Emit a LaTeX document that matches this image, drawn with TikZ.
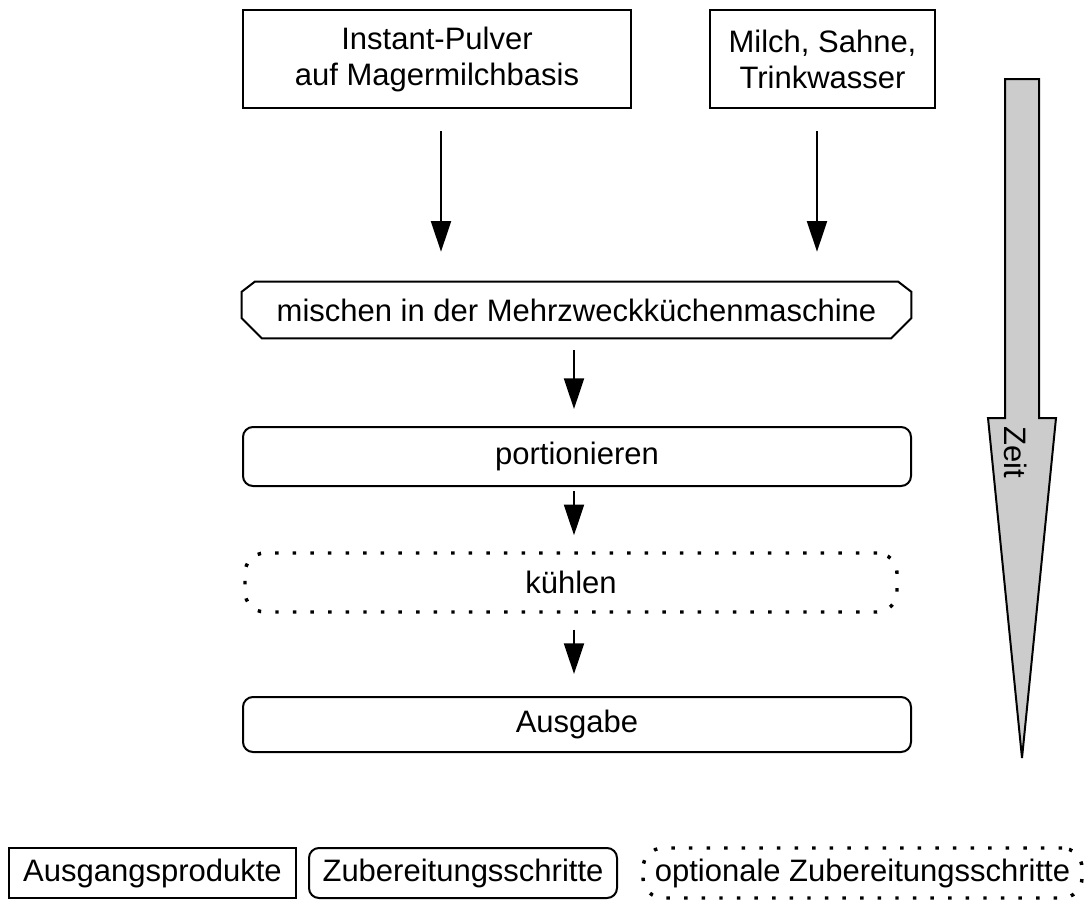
\documentclass[tikz,border=0pt]{standalone}
\usepackage{fontspec}
\setmainfont{Liberation Sans}
\usetikzlibrary{arrows.meta,calc}
\begin{document}
\begin{tikzpicture}[x=0.75pt,y=-0.75pt,
  every node/.style={font=\fontsize{23.25pt}{27pt}\selectfont, inner sep=0pt, align=center},
  thin line/.style={line width=1.5pt},
  srcbox/.style={thin line, draw},
  stepbox/.style={thin line, draw, rounded corners=7.5pt},
  optbox/.style={draw, line width=2.6pt, dash pattern=on 2.6pt off 10.6pt, rounded corners=15pt},
  arr/.style={thin line, -{Triangle[length=23pt,width=15pt]}}]
\useasboundingbox (0,0) rectangle (1090,900);

% ingredients
\node[srcbox, minimum width=291pt, minimum height=73.5pt] (src1) at (437,59) {Instant-Pulver\\auf Magermilchbasis};
\node[srcbox, minimum width=168.75pt, minimum height=73.5pt] (src2) at (822.5,59) {Milch, Sahne,\\Trinkwasser};

% preparation steps
\node[minimum width=501.75pt, minimum height=42pt] (mix) at (576.5,310) {mischen in der Mehrzweckküchenmaschine};
\draw[thin line] ($(mix.north west)+(13,0)$) -- ($(mix.north east)+(-13,0)$) -- ($(mix.north east)+(0,10)$)
  -- ($(mix.south east)+(0,-20)$) -- ($(mix.south east)+(-20,0)$) -- ($(mix.south west)+(20,0)$)
  -- ($(mix.south west)+(0,-20)$) -- ($(mix.north west)+(0,10)$) -- cycle;
\node[stepbox, minimum width=501pt, minimum height=44.25pt] (port) at (577,456.5) {portionieren};
\node[optbox, minimum width=489pt, minimum height=44.25pt] (kuehl) at (571,582.5) {kühlen};
\node[stepbox, minimum width=501pt, minimum height=41.25pt] (ausg) at (577,724.5) {Ausgabe};

% flow arrows
\draw[arr] ($(src1.south)+(4,22)$) -- ($(src1.south |- mix.north)+(4,-30)$);
\draw[arr] ($(src2.south)+(-5.5,22)$) -- ($(src2.south |- mix.north)+(-5.5,-30)$);
\draw[arr] ($(mix.south)+(-2.5,12)$) -- ($(mix.south |- port.north)+(-2.5,-17)$);
\draw[arr] ($(port.south)+(-3,4)$) -- ($(port.south |- kuehl.north)+(-3,-16)$);
\draw[arr] ($(kuehl.south)+(3,16)$) -- ($(kuehl.south |- ausg.north)+(3,-22)$);

% time axis
\draw[thin line, fill=black!20, line join=miter]
  (1005,79) -- (1039,79) -- (1039,418) -- (1056,418) -- (1022,758) -- (988,418) -- (1005,418) -- cycle;
\node[rotate=-90] (zeit) at (1016,452) {Zeit};

% legend
\node[srcbox, minimum width=215.25pt, minimum height=37.5pt] (leg1) at (152.5,873) {Ausgangsprodukte};
\node[stepbox, minimum width=231pt, minimum height=37.5pt] (leg2) at (463,873) {Zubereitungsschritte};
\node[optbox, minimum width=329.25pt, minimum height=37.5pt] (leg3) at (862.5,873) {optionale Zubereitungsschritte};
\end{tikzpicture}
\end{document}
